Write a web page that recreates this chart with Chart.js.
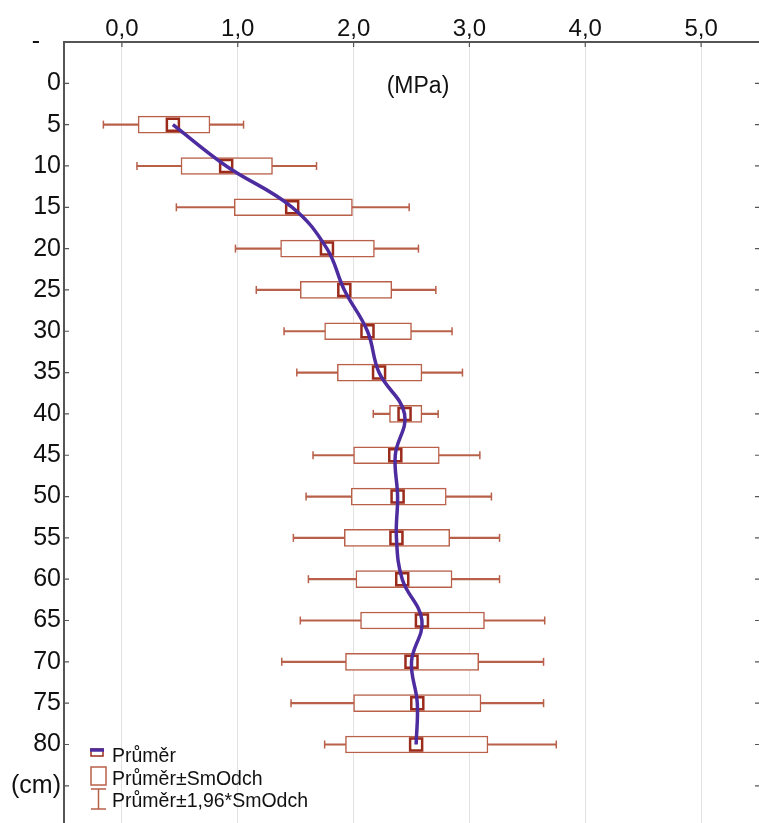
<!DOCTYPE html>
<html>
<head>
<meta charset="utf-8">
<script src="https://cdn.jsdelivr.net/npm/chart.js@4.4.0/dist/chart.umd.min.js"></script>
<style>
    html, body { margin: 0; padding: 0; background: #fff; }
    #wrap { position: relative; width: 759px; height: 823px; }
</style>
</head>
<body>
<div id="wrap"><canvas id="chart"></canvas></div>
<script>
// --- data (MPa by depth in cm) ---
const depths    = [5, 10, 15, 20, 25, 30, 35, 40, 45, 50, 55, 60, 65, 70, 75, 80];
const means     = [0.44, 0.90, 1.47, 1.77, 1.92, 2.12, 2.22, 2.44, 2.36, 2.38, 2.37, 2.42, 2.59, 2.50, 2.55, 2.54];
const boxLow    = [0.14, 0.51, 0.97, 1.37, 1.54, 1.75, 1.86, 2.31, 2.00, 1.98, 1.92, 2.02, 2.06, 1.93, 2.00, 1.93];
const boxHigh   = [0.76, 1.30, 1.99, 2.18, 2.33, 2.50, 2.59, 2.59, 2.74, 2.80, 2.83, 2.85, 3.13, 3.08, 3.10, 3.16];
const whiskLow  = [-0.16, 0.13, 0.47, 0.98, 1.16, 1.40, 1.51, 2.17, 1.65, 1.59, 1.48, 1.61, 1.54, 1.38, 1.46, 1.75];
const whiskHigh = [1.05, 1.68, 2.48, 2.56, 2.71, 2.85, 2.94, 2.73, 3.09, 3.19, 3.26, 3.26, 3.65, 3.64, 3.64, 3.75];

const xTickValues = [0, 1, 2, 3, 4, 5];
const xTickLabels = ['0,0', '1,0', '2,0', '3,0', '4,0', '5,0'];
const yTickValues = [-5, 0, 5, 10, 15, 20, 25, 30, 35, 40, 45, 50, 55, 60, 65, 70, 75, 80, 85];
const yTickLabels = ['-   ', '0', '5', '10', '15', '20', '25', '30', '35', '40', '45', '50', '55', '60', '65', '70', '75', '80', '(cm)'];

const legendLabels = ['Průměr', 'Průměr±SmOdch', 'Průměr±1,96*SmOdch'];
const unitLabel = '(MPa)';

const BOX = '#b9604a';
const MEAN = '#9b2b1b';
const LINE = '#4d2c9f';
const AXIS = '#555';
const FONT = "'Liberation Sans', Arial, sans-serif";

// --- inward tick marks on left, top and right ---
const innerTicks = {
    id: 'innerTicks',
    afterDraw(chart) {
        const { ctx, chartArea: a, scales } = chart;
        ctx.save();
        ctx.strokeStyle = AXIS;
        ctx.lineWidth = 1.2;
        ctx.beginPath();
        scales.x.ticks.forEach(t => {
            const px = scales.x.getPixelForValue(t.value);
            ctx.moveTo(px, a.top); ctx.lineTo(px, a.top + 5);
        });
        scales.y.ticks.forEach(t => {
            const py = scales.y.getPixelForValue(t.value);
            ctx.moveTo(a.left, py); ctx.lineTo(a.left + 5, py);
            ctx.moveTo(a.right, py); ctx.lineTo(a.right - 4, py);
        });
        ctx.stroke();
        ctx.restore();
    }
};

// --- unit text and legend box in the lower left ---
const notes = {
    id: 'notes',
    afterDraw(chart) {
        const { ctx } = chart;
        ctx.save();
        ctx.fillStyle = '#111';
        ctx.font = '23px ' + FONT;
        ctx.textAlign = 'center';
        ctx.textBaseline = 'middle';
        ctx.fillText(unitLabel, 418, 87);

        // legend icons
        ctx.lineWidth = 1.5;
        ctx.strokeStyle = MEAN;
        ctx.fillStyle = '#fff';
        ctx.fillRect(91, 749, 12, 7);
        ctx.strokeRect(91, 749, 12, 7);
        ctx.strokeStyle = LINE;
        ctx.lineWidth = 3.5;
        ctx.beginPath(); ctx.moveTo(90, 750); ctx.lineTo(104, 750); ctx.stroke();

        ctx.strokeStyle = BOX;
        ctx.lineWidth = 1.5;
        ctx.strokeRect(91, 767, 15, 18);
        ctx.beginPath();
        ctx.moveTo(91, 789); ctx.lineTo(106, 789);
        ctx.moveTo(98.5, 789); ctx.lineTo(98.5, 809);
        ctx.moveTo(91, 809); ctx.lineTo(106, 809);
        ctx.stroke();

        ctx.fillStyle = '#111';
        ctx.font = '19.5px ' + FONT;
        ctx.textAlign = 'left';
        ctx.textBaseline = 'alphabetic';
        legendLabels.forEach((t, i) => ctx.fillText(t, 112, 762 + i * 22.5));
        ctx.restore();
    }
};

const boxData = depths.map((d, i) => ({ y: d, x: [boxLow[i], boxHigh[i]] }));
const whiskData = depths.map((d, i) => ({ y: d, x: [whiskLow[i], whiskHigh[i]] }));
const capData = depths.flatMap((d, i) => [{ x: whiskLow[i], y: d }, { x: whiskHigh[i], y: d }]);
const meanData = depths.map((d, i) => ({ x: means[i], y: d }));

new Chart(document.getElementById('chart'), {
    type: 'bar',
    data: {
        datasets: [
            {
                type: 'line', data: meanData, order: 0,
                borderColor: LINE, borderWidth: 3.5, tension: 0.4,
                pointRadius: 0, fill: false
            },
            {
                type: 'scatter', data: meanData, order: 1,
                pointStyle: 'rect', pointRadius: 8.5,
                borderColor: MEAN, borderWidth: 2.5, backgroundColor: '#fff'
            },
            {
                type: 'bar', data: boxData, order: 2, grouped: false,
                barThickness: 17, backgroundColor: '#fff',
                borderColor: BOX, borderWidth: 1.5, borderSkipped: false
            },
            {
                type: 'scatter', data: capData, order: 3,
                pointStyle: 'line', rotation: 90, pointRadius: 4,
                borderColor: BOX, borderWidth: 1.5
            },
            {
                type: 'bar', data: whiskData, order: 4, grouped: false,
                barThickness: 1.5, backgroundColor: BOX, borderWidth: 0
            }
        ]
    },
    options: {
        indexAxis: 'y',
        responsive: true,
        maintainAspectRatio: false,
        animation: false,
        events: [],
        layout: { padding: 0, autoPadding: false },
        plugins: { legend: { display: false }, tooltip: { enabled: false } },
        scales: {
            x: {
                type: 'linear', position: 'top', min: -0.5, max: 5.5, offset: false,
                afterFit: s => { s.height = 42; s.paddingLeft = 0; s.paddingRight = 0; },
                afterBuildTicks: s => { s.ticks = xTickValues.map(v => ({ value: v })); },
                grid: { color: '#e2e2e2', lineWidth: 1, drawTicks: false, offset: false },
                border: { display: true, color: AXIS, width: 2 },
                ticks: {
                    padding: -2, color: '#111', font: { family: FONT, size: 24 },
                    maxRotation: 0,
                    callback: (v, i) => xTickLabels[i]
                }
            },
            y: {
                type: 'linear', position: 'left', reverse: true, min: -5, max: 89.5, offset: false,
                afterFit: s => { s.width = 64; s.paddingTop = 0; s.paddingBottom = 0; },
                afterBuildTicks: s => { s.ticks = yTickValues.map(v => ({ value: v })); },
                grid: { drawOnChartArea: false, drawTicks: false, offset: false },
                border: { display: true, color: AXIS, width: 2 },
                ticks: {
                    padding: 3, color: '#111', font: { family: FONT, size: 25 },
                    autoSkip: false,
                    callback: (v, i) => yTickLabels[i]
                }
            }
        }
    },
    plugins: [innerTicks, notes]
});
</script>
</body>
</html>
